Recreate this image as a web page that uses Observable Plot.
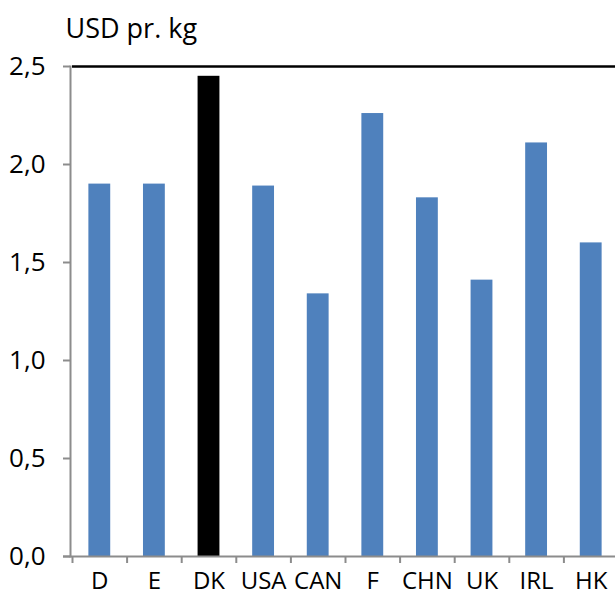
<!DOCTYPE html>
<html><head><meta charset="utf-8">
<script src="https://cdn.jsdelivr.net/npm/d3@7"></script>
<script src="https://cdn.jsdelivr.net/npm/@observablehq/plot@0.6"></script>
<style>body{margin:0;background:#fff}</style>
</head><body><div id="chart"></div>
<script>
const categories = ["D","E","DK","USA","CAN","F","CHN","UK","IRL","HK"];
const values = [1.90, 1.90, 2.45, 1.89, 1.34, 2.26, 1.83, 1.41, 2.11, 1.60];
const highlight = "DK";
const yTicks = [0, 0.5, 1, 1.5, 2, 2.5];
const yLabel = "USD pr. kg";
const data = categories.map((c, i) => ({country: c, value: values[i]}));

const W = 615, H = 597, mL = 72, mR = -3;
const step = (W - mR - mL) / categories.length;

const chart = Plot.plot({
  width: W, height: H,
  marginLeft: mL, marginRight: mR, marginTop: 66, marginBottom: 41,
  style: {fontFamily: "'Open Sans', sans-serif", fontSize: "26px", color: "#000", background: "#fff", overflow: "visible"},
  x: {domain: categories, paddingInner: 0.6, paddingOuter: 0.3, round: false},
  y: {domain: [0, 2.5]},
  color: {type: "identity"},
  marks: [
    Plot.barY(data, {x: "country", y: "value", fill: d => d.country === highlight ? "#000000" : "#4F81BD"}),
    Plot.ruleY([2.5], {stroke: "#000", strokeWidth: 2.5}),
    Plot.ruleY([0], {stroke: "#8c8c8c", strokeWidth: 2, insetLeft: -9}),
    Plot.frame({anchor: "left", stroke: "#8c8c8c", strokeWidth: 2, dx: -2}),
    Plot.axisY({ticks: yTicks, tickFormat: d => d.toFixed(1).replace(".", ","), tickSize: 7, tickPadding: 18, dx: -2, stroke: "#8c8c8c", strokeWidth: 2, fill: "#000", fontSize: 26, label: null}),
    Plot.axisX({tickSize: 7, text: null, dx: -step / 2, stroke: "#8c8c8c", strokeWidth: 2, label: null}),
    Plot.axisX({tickSize: 0, tickPadding: 15, fill: "#000", fontSize: 24, label: null, style: {letterSpacing: "-0.5px"}}),
    Plot.text([yLabel], {frameAnchor: "top-left", textAnchor: "start", lineAnchor: "bottom", dx: -7, dy: -29, fontSize: 27, fill: "#000"})
  ]
});
document.getElementById("chart").appendChild(chart);
</script>
</body></html>
